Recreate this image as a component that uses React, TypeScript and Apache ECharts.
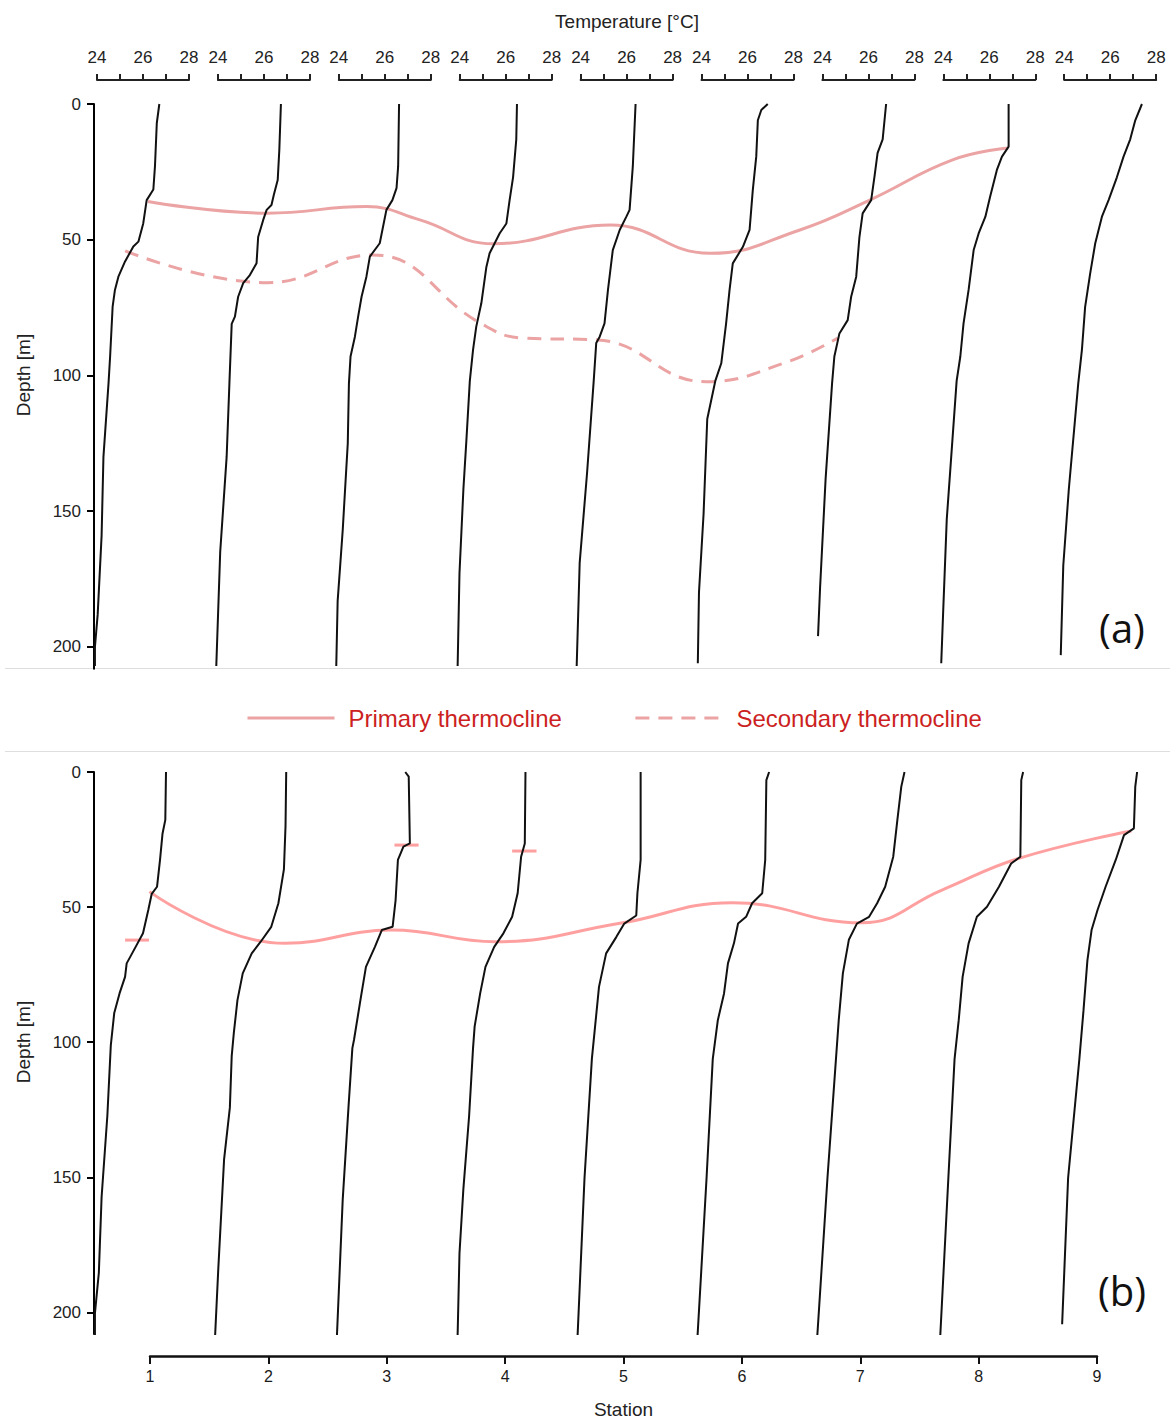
import React, { useEffect, useRef } from "react";
import * as echarts from "echarts";

// ---------- data ----------
const stationTicks = [1, 2, 3, 4, 5, 6, 7, 8, 9];
const depthTicks = [0, 50, 100, 150, 200];
const tempTicks = [24, 25, 26, 27, 28];
const tempLabels = [24, 26, 28];

// Temperature profiles [T (°C), depth (m)] for panel (a), stations 1..9
const profilesA: number[][][] = [
  [[26.71,0],[26.6,7],[26.52,23],[26.45,31.5],[26.16,35.4],[26.01,44],[25.8,50.7],[25.58,52.5],[25.22,58],[24.93,63.6],[24.78,68.5],[24.68,74.6],[24.57,93],[24.5,103],[24.28,130],[24.2,159],[24.03,188],[23.91,200],[23.91,207]],
  [[26.74,0],[26.67,17],[26.6,28],[26.43,33.5],[26.33,37.2],[26.12,39],[25.97,42.7],[25.75,49],[25.68,58.7],[25.39,63],[25.1,66],[24.88,71],[24.74,78.3],[24.6,81],[24.5,103],[24.38,130],[24.1,165],[23.93,207]],
  [[26.62,0],[26.58,23],[26.51,31],[26.33,35.4],[26.07,39],[25.78,51.3],[25.35,56.2],[25.2,63.6],[24.99,71],[24.84,78.3],[24.7,85.7],[24.51,93],[24.44,103],[24.39,125],[24.17,157],[23.95,183],[23.89,207]],
  [[26.49,0],[26.46,13],[26.32,27],[26.17,35.4],[26.03,44],[25.74,47.6],[25.3,55],[25.16,60],[24.94,73.4],[24.72,82],[24.58,90.6],[24.44,102],[24.29,124],[24.16,142],[23.99,173],[23.91,207]],
  [[26.39,0],[26.27,23],[26.13,39],[25.99,41.5],[25.7,46.4],[25.4,53.8],[25.19,68.5],[25.04,80.8],[24.83,85.7],[24.68,88],[24.57,102],[24.28,136],[23.96,169],[23.83,207]],
  [[26.88,0],[26.6,2.2],[26.45,6],[26.38,19.4],[26.23,31.7],[26.09,46.4],[25.8,52.6],[25.36,58.7],[25.22,68.5],[25.07,80.8],[24.86,95.5],[24.6,102],[24.25,116],[24.09,151],[23.89,180],[23.84,206]],
  [[26.77,0],[26.62,13],[26.4,18],[26.26,27],[26.12,35.4],[25.75,40.3],[25.61,49],[25.47,63.6],[25.25,71],[25.1,79.6],[24.74,84.5],[24.52,93],[24.42,103],[24.14,138],[23.9,178],[23.81,196]],
  [[26.84,0],[26.84,15.7],[26.55,19.4],[26.33,24.3],[26.04,34],[25.83,41.5],[25.54,47.6],[25.32,53.8],[25.1,68.5],[24.88,80.8],[24.74,93],[24.58,102],[24.15,153],[23.99,188],[23.91,206]],
  [[27.38,0],[27.09,6],[26.87,13],[26.58,19.4],[26.29,27],[25.93,35.4],[25.64,41.5],[25.35,51.3],[25.13,62.4],[24.91,74.7],[24.77,90.6],[24.61,103],[24.2,142],[23.96,170],[23.85,203]],
];

// Temperature profiles [T (°C), depth (m)] for panel (b), stations 1..9
const profilesB: number[][][] = [
  [[27.0,0],[26.97,17.7],[26.85,22.7],[26.74,32.5],[26.61,42.4],[26.38,45],[26.23,51],[26.0,59.6],[25.68,64.6],[25.29,70.7],[25.22,75.7],[24.98,81.8],[24.75,89],[24.6,101],[24.45,127],[24.2,157],[24.08,185],[23.91,200],[23.91,208]],
  [[26.97,0],[26.94,20],[26.87,36],[26.63,48.5],[26.32,57.2],[25.86,62.7],[25.47,67],[25.08,74.4],[24.85,84.3],[24.69,96.6],[24.6,105],[24.52,124],[24.27,143],[24.02,183],[23.88,208]],
  [[26.89,0],[27.04,1.7],[27.09,26.4],[26.81,27.6],[26.57,32.5],[26.47,47.3],[26.34,57.2],[25.87,58.4],[25.57,64.6],[25.18,72],[24.94,84.3],[24.66,99],[24.59,102],[24.42,124],[24.17,158],[23.92,208]],
  [[26.86,0],[26.83,26.4],[26.67,31.3],[26.52,44.8],[26.28,53.5],[25.9,59.6],[25.5,64.6],[25.12,72],[24.89,81.8],[24.65,94],[24.58,102],[24.41,127],[24.16,154],[23.99,178],[23.91,208]],
  [[26.61,0],[26.61,32.5],[26.47,44.8],[26.42,53],[25.9,56],[25.55,61],[25.11,67],[24.8,79.4],[24.63,94],[24.49,106],[24.17,150],[23.87,208]],
  [[26.94,0],[26.82,3],[26.77,32.5],[26.64,44.8],[26.2,48.5],[25.94,53.5],[25.59,56],[25.41,63.3],[25.15,70.7],[24.98,81.8],[24.71,91.7],[24.49,106],[24.22,150],[23.83,208]],
  [[27.57,0],[27.43,5.4],[27.26,17.7],[27.08,31.3],[26.73,42.4],[26.38,48.5],[26.03,53.5],[25.5,56],[25.15,62],[24.89,74.4],[24.71,91.7],[24.59,106],[24.22,150],[23.78,208]],
  [[27.47,0],[27.39,3],[27.35,31.3],[26.95,33.8],[26.42,42.4],[25.9,49.8],[25.46,53.5],[25.1,63.3],[24.84,75.7],[24.67,91.7],[24.49,106],[24.22,150],[23.87,208]],
  [[27.17,0],[27.09,5.4],[27.03,20.8],[26.6,23.3],[26.24,32.5],[25.8,42.4],[25.45,51],[25.19,58.4],[25.01,69.5],[24.84,88],[24.66,106],[24.17,150],[23.91,204]],
];

// Thermoclines [station, depth (m)]
const primaryA = [[0.983,35.9],[1.99,40.2],[2.83,37.8],[3.28,42.7],[3.9,51.5],[4.89,44.6],[5.73,55],[6.49,46.4],[7.08,35.4],[7.78,20.6],[8.25,16.2]];
const secondaryA = [[0.79,54.1],[1.99,65.8],[2.88,55.6],[3.79,80.7],[4.15,86.2],[4.78,86.9],[5.7,102.3],[6.36,95.4],[6.81,86.2]];
const primaryB = [[0.995,44.2],[2.14,63.3],[3.04,58.4],[3.92,62.7],[4.97,55.9],[5.92,48.3],[7.01,55.7],[7.69,43.6],[8.34,31.9],[9.29,21.8]];

// Short thermocline markers in panel (b): station index, depth, temperature span
const markerStationB = [0, 2, 3];
const markerDepthB = [62.1, 27, 29.2];
const markerT0B = [25.22, 26.42, 26.28];
const markerT1B = [26.26, 27.47, 27.34];

// ---------- layout ----------
const FONT = "Liberation Sans, Arial, sans-serif";
const TEMP_LEFT0 = 97;
const TEMP_STEP = 120.9;
const TEMP_W = 92; // px for 24..28 °C
const PX_PER_C = TEMP_W / 4;
const T_MIN_H = 23.5; // hidden (wide) temperature range for the profiles
const T_MAX_H = 28.5;
const ST_LEFT = 150;
const ST_W = 947; // px for stations 1..9
const PX_PER_ST = ST_W / 8;
const S_MIN_H = 0.5; // hidden (wide) station range for thermoclines
const S_MAX_H = 9.5;
const A_TOP = 104;
const A_H = 564.7;
const B_TOP = 772;
const B_H = 563;
const DEPTH_MAX = 208;
const LINE_A = "#eba3a3";
const LINE_B = "#ffa0a0";

function buildOption() {
  const grid: any[] = [];
  const xAxis: any[] = [];
  const yAxis: any[] = [];
  const series: any[] = [];

  const addGrid = (g: any) => {
    grid.push(g);
    return grid.length - 1;
  };

  const depthAxis = (gi: number, visible: boolean) => ({
    gridIndex: gi,
    type: "value",
    inverse: true,
    min: 0,
    max: DEPTH_MAX,
    interval: 50,
    show: visible,
    position: "left",
    offset: visible ? ST_LEFT - 94 : 0,
    axisLine: { show: true, onZero: false, lineStyle: { color: "#000", width: 2 } },
    axisTick: { show: true, length: 7, customValues: depthTicks, lineStyle: { color: "#000", width: 2 } },
    axisLabel: { customValues: depthTicks, fontSize: 17, color: "#222", fontFamily: FONT, margin: 13 },
    splitLine: { show: false },
  });

  const hiddenX = (gi: number, min: number, max: number) => ({
    gridIndex: gi,
    type: "value",
    min,
    max,
    show: false,
    axisLine: { onZero: false },
    splitLine: { show: false },
  });

  const panel = (top: number, height: number, profiles: number[][][], showTemp: boolean, showStation: boolean) => {
    // visible station axis + depth axis
    const visGi = addGrid({ left: ST_LEFT, width: ST_W, top, height });
    xAxis.push({
      gridIndex: visGi,
      type: "value",
      min: 1,
      max: 9,
      interval: 1,
      show: showStation,
      position: "bottom",
      offset: 22,
      name: "Station",
      nameLocation: "middle",
      nameGap: 44,
      nameTextStyle: { fontSize: 19, color: "#222", fontFamily: FONT },
      axisLine: { show: true, onZero: false, lineStyle: { color: "#111", width: 2.5 } },
      axisTick: { show: true, length: 8, customValues: stationTicks, lineStyle: { color: "#111", width: 2 } },
      axisLabel: { customValues: stationTicks, fontSize: 16, color: "#1a1a1a", fontFamily: FONT, margin: 12 },
      splitLine: { show: false },
    });
    yAxis.push(depthAxis(visGi, true));

    // wider hidden station grid for thermocline lines
    const stGi = addGrid({
      left: ST_LEFT - PX_PER_ST * (1 - S_MIN_H),
      width: PX_PER_ST * (S_MAX_H - S_MIN_H),
      top,
      height,
    });
    xAxis.push(hiddenX(stGi, S_MIN_H, S_MAX_H));
    yAxis.push(depthAxis(stGi, false));

    const profGi: number[] = [];
    profiles.forEach((prof, i) => {
      const left = TEMP_LEFT0 + TEMP_STEP * i;
      if (showTemp) {
        const tGi = addGrid({ left, width: TEMP_W, top, height });
        xAxis.push({
          gridIndex: tGi,
          type: "value",
          min: 24,
          max: 28,
          interval: 1,
          position: "top",
          offset: 24,
          axisLine: { show: true, onZero: false, lineStyle: { color: "#222", width: 2 } },
          axisTick: { show: true, inside: false, length: 6, customValues: tempTicks, lineStyle: { color: "#222", width: 2 } },
          axisLabel: {
            customValues: tempLabels,
            fontSize: 17,
            color: "#222",
            fontFamily: FONT,
            margin: 14,
            formatter: (v: number) => (v % 2 === 0 ? String(v) : ""),
          },
          splitLine: { show: false },
        });
        yAxis.push(depthAxis(tGi, false));
      }
      // wider hidden grid for the profile itself (same °C scale)
      const gi = addGrid({
        left: left - PX_PER_C * (24 - T_MIN_H),
        width: PX_PER_C * (T_MAX_H - T_MIN_H),
        top,
        height,
      });
      profGi.push(gi);
      xAxis.push(hiddenX(gi, T_MIN_H, T_MAX_H));
      yAxis.push(depthAxis(gi, false));
      series.push({
        type: "line",
        xAxisIndex: gi,
        yAxisIndex: gi,
        data: prof,
        symbol: "none",
        clip: false,
        silent: true,
        lineStyle: { color: "#111", width: 2 },
        z: 3,
      });
    });
    return { stGi, profGi };
  };

  const a = panel(A_TOP, A_H, profilesA, true, false);
  const b = panel(B_TOP, B_H, profilesB, false, true);

  series.push({
    name: "Primary thermocline",
    type: "line",
    xAxisIndex: a.stGi,
    yAxisIndex: a.stGi,
    data: primaryA,
    symbol: "none",
    smooth: 0.45,
    clip: false,
    lineStyle: { color: LINE_A, width: 3 },
    itemStyle: { color: LINE_A },
    z: 2,
  });
  series.push({
    name: "Secondary thermocline",
    type: "line",
    xAxisIndex: a.stGi,
    yAxisIndex: a.stGi,
    data: secondaryA,
    symbol: "none",
    smooth: 0.45,
    clip: false,
    lineStyle: { color: LINE_A, width: 3, type: [14, 9] },
    itemStyle: { color: LINE_A },
    z: 2,
  });
  series.push({
    name: "Primary thermocline",
    type: "line",
    xAxisIndex: b.stGi,
    yAxisIndex: b.stGi,
    data: primaryB,
    symbol: "none",
    smooth: 0.45,
    clip: false,
    lineStyle: { color: LINE_B, width: 3 },
    itemStyle: { color: LINE_B },
    z: 2,
  });
  markerStationB.forEach((si, k) => {
    const gi = b.profGi[si];
    series.push({
      name: "marker" + k,
      type: "line",
      xAxisIndex: gi,
      yAxisIndex: gi,
      data: [
        [markerT0B[k], markerDepthB[k]],
        [markerT1B[k], markerDepthB[k]],
      ],
      symbol: "none",
      clip: false,
      silent: true,
      lineStyle: { color: LINE_B, width: 3 },
      z: 2,
    });
  });

  return {
    animation: false,
    backgroundColor: "#fff",
    grid,
    xAxis,
    yAxis,
    series,
    legend: {
      data: ["Primary thermocline", "Secondary thermocline"],
      left: 246,
      top: 706,
      padding: 0,
      itemWidth: 87,
      itemHeight: 14,
      itemGap: 72,
      selectedMode: false,
      itemStyle: { opacity: 0 },
      lineStyle: { width: 3 },
      textStyle: { color: "#cc1f1f", fontSize: 24, fontFamily: FONT, padding: [0, 0, 0, 9] },
    },
    graphic: [
      { type: "line", shape: { x1: 5, y1: 668.5, x2: 1170, y2: 668.5 }, style: { stroke: "#dedede", lineWidth: 1 }, silent: true },
      { type: "line", shape: { x1: 5, y1: 751.5, x2: 1170, y2: 751.5 }, style: { stroke: "#dedede", lineWidth: 1 }, silent: true },
      { type: "text", x: 627, y: 21, style: { text: "Temperature [°C]", font: `19px ${FONT}`, fill: "#222", align: "center", verticalAlign: "middle" } },
      { type: "text", x: 23, y: 375, rotation: Math.PI / 2, style: { text: "Depth [m]", font: `19px ${FONT}`, fill: "#222", align: "center", verticalAlign: "middle" } },
      { type: "text", x: 23, y: 1042, rotation: Math.PI / 2, style: { text: "Depth [m]", font: `19px ${FONT}`, fill: "#222", align: "center", verticalAlign: "middle" } },
      { type: "text", x: 1122, y: 627, style: { text: "(a)", font: `40px "Open Sans", "Noto Sans", sans-serif`, fill: "#111", align: "center", verticalAlign: "middle" } },
      { type: "text", x: 1122, y: 1290, style: { text: "(b)", font: `40px "Open Sans", "Noto Sans", sans-serif`, fill: "#111", align: "center", verticalAlign: "middle" } },
    ],
  };
}

export default function App() {
  const ref = useRef<HTMLDivElement>(null);
  useEffect(() => {
    if (!ref.current) return;
    const chart = echarts.init(ref.current, undefined, { renderer: "svg" });
    chart.setOption(buildOption() as any);
    return () => chart.dispose();
  }, []);
  return (
    <div
      ref={ref}
      style={{ position: "absolute", left: 0, top: 0, width: 1170, height: 1420, background: "#fff" }}
    />
  );
}
